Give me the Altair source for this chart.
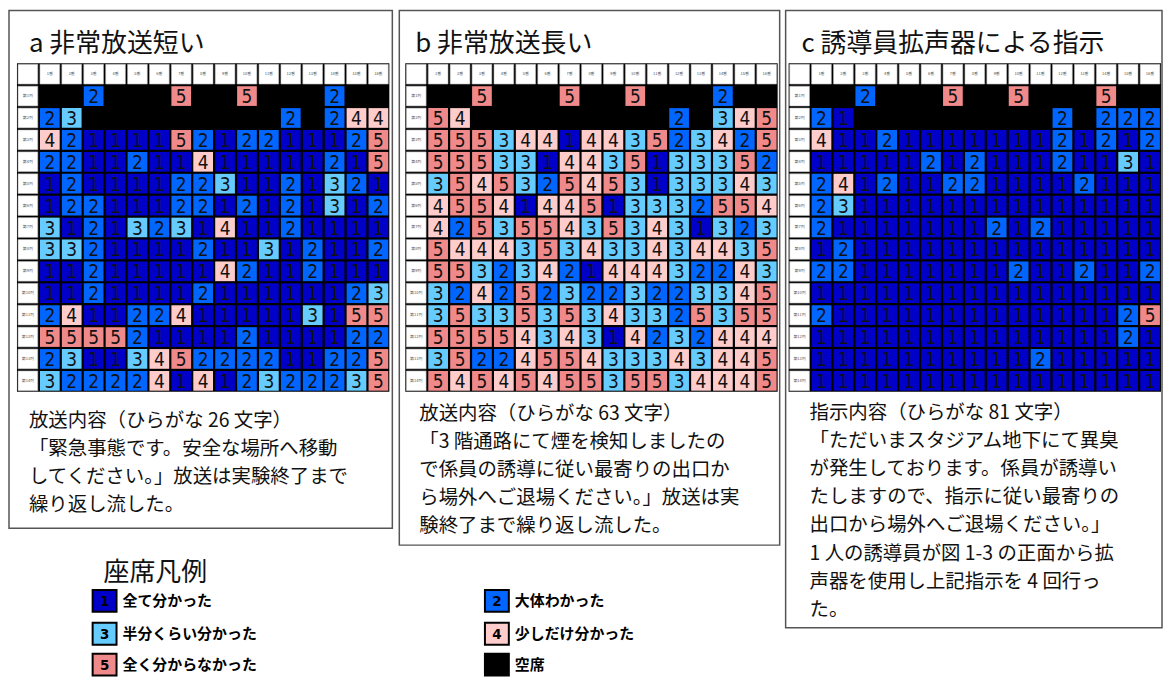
import altair as alt
import pandas as pd

# ---------------- data ----------------
a_rows = [
    [0, 0, 2, 0, 0, 0, 5, 0, 0, 5, 0, 0, 0, 2, 0, 0],
    [2, 3, 0, 0, 0, 0, 0, 0, 0, 0, 0, 2, 0, 2, 4, 4],
    [4, 2, 1, 1, 1, 1, 5, 2, 1, 2, 2, 1, 1, 1, 2, 5],
    [2, 2, 1, 1, 2, 1, 1, 4, 1, 1, 1, 1, 1, 2, 1, 5],
    [1, 2, 1, 1, 1, 1, 2, 2, 3, 1, 1, 2, 1, 3, 2, 1],
    [1, 2, 2, 1, 1, 1, 2, 2, 1, 2, 1, 2, 1, 3, 1, 2],
    [3, 1, 2, 1, 3, 2, 3, 1, 4, 1, 1, 2, 1, 1, 1, 1],
    [3, 3, 2, 1, 1, 1, 1, 2, 1, 1, 3, 1, 2, 1, 1, 2],
    [1, 1, 2, 1, 1, 1, 1, 1, 4, 2, 1, 1, 2, 1, 1, 1],
    [1, 1, 2, 1, 1, 1, 1, 2, 1, 1, 1, 1, 1, 1, 2, 3],
    [2, 4, 1, 1, 2, 2, 4, 1, 1, 1, 1, 1, 3, 1, 5, 5],
    [5, 5, 5, 5, 2, 1, 1, 1, 1, 2, 1, 1, 1, 1, 2, 2],
    [2, 3, 1, 1, 3, 4, 5, 2, 2, 2, 2, 1, 1, 2, 2, 5],
    [3, 2, 2, 2, 2, 4, 1, 4, 1, 2, 3, 2, 2, 2, 3, 5],
]
b_rows = [
    [0, 0, 5, 0, 0, 0, 5, 0, 0, 5, 0, 0, 0, 2, 0, 0],
    [5, 4, 0, 0, 0, 0, 0, 0, 0, 0, 0, 2, 0, 3, 4, 5],
    [5, 5, 5, 3, 4, 4, 1, 4, 4, 3, 5, 2, 3, 4, 2, 5],
    [5, 5, 5, 3, 3, 1, 4, 4, 3, 5, 1, 3, 3, 3, 5, 2],
    [3, 5, 4, 5, 3, 2, 5, 4, 5, 3, 1, 3, 3, 3, 4, 3],
    [4, 5, 5, 4, 1, 4, 4, 5, 1, 3, 3, 3, 2, 5, 5, 4],
    [4, 2, 5, 3, 5, 5, 4, 3, 5, 3, 4, 3, 1, 3, 2, 3],
    [5, 4, 4, 4, 3, 5, 3, 4, 3, 3, 4, 3, 4, 4, 3, 5],
    [5, 5, 3, 2, 3, 4, 2, 1, 4, 4, 4, 3, 2, 2, 4, 3],
    [3, 2, 4, 2, 5, 2, 3, 2, 2, 3, 2, 2, 3, 3, 4, 5],
    [3, 5, 3, 3, 5, 3, 5, 3, 4, 3, 3, 2, 5, 3, 5, 5],
    [5, 5, 5, 5, 4, 3, 4, 3, 1, 4, 2, 3, 2, 4, 4, 4],
    [3, 5, 2, 2, 4, 5, 5, 4, 3, 3, 3, 4, 3, 4, 4, 5],
    [5, 4, 5, 4, 5, 4, 5, 5, 3, 5, 5, 3, 4, 4, 4, 5],
]
c_rows = [
    [0, 0, 2, 0, 0, 0, 5, 0, 0, 5, 0, 0, 0, 5, 0, 0],
    [2, 1, 0, 0, 0, 0, 0, 0, 0, 0, 0, 2, 0, 2, 2, 2],
    [4, 1, 1, 2, 1, 1, 1, 1, 1, 1, 1, 2, 1, 2, 1, 2],
    [1, 1, 1, 1, 1, 2, 1, 2, 1, 1, 1, 2, 1, 1, 3, 1],
    [2, 4, 1, 2, 1, 1, 2, 2, 1, 1, 1, 1, 2, 1, 1, 1],
    [2, 3, 1, 1, 1, 1, 1, 1, 1, 1, 1, 1, 1, 1, 1, 1],
    [2, 1, 1, 1, 1, 1, 1, 1, 2, 1, 2, 1, 1, 1, 1, 1],
    [1, 2, 1, 1, 1, 1, 1, 1, 1, 1, 1, 1, 1, 1, 1, 1],
    [2, 2, 1, 1, 1, 1, 1, 1, 1, 2, 1, 1, 2, 1, 1, 2],
    [1, 1, 1, 1, 1, 1, 1, 1, 1, 1, 1, 1, 1, 1, 1, 1],
    [2, 1, 1, 1, 1, 1, 1, 1, 1, 1, 1, 1, 1, 1, 2, 5],
    [1, 1, 1, 1, 1, 1, 1, 1, 1, 1, 1, 1, 1, 1, 2, 1],
    [1, 1, 1, 1, 1, 1, 1, 1, 1, 1, 2, 1, 1, 1, 1, 1],
    [1, 1, 1, 1, 1, 1, 1, 1, 1, 1, 1, 1, 1, 1, 1, 1],
]

col_labels = [f"{i}番" for i in range(1, 17)]
row_labels = [f"第{i}列" for i in range(1, 15)]

titles = ["a 非常放送短い", "b 非常放送長い", "c 誘導員拡声器による指示"]

a_text = [
    "放送内容（ひらがな 26 文字）",
    "「緊急事態です。安全な場所へ移動",
    "してください。」放送は実験終了まで",
    "繰り返し流した。",
]
b_text = [
    "放送内容（ひらがな 63 文字）",
    "「3 階通路にて煙を検知しましたの",
    "で係員の誘導に従い最寄りの出口か",
    "ら場外へご退場ください。」放送は実",
    "験終了まで繰り返し流した。",
]
c_text = [
    "指示内容（ひらがな 81 文字）",
    "「ただいまスタジアム地下にて異臭",
    "が発生しております。係員が誘導い",
    "たしますので、指示に従い最寄りの",
    "出口から場外へご退場ください。」",
    "1 人の誘導員が図 1-3 の正面から拡",
    "声器を使用し上記指示を 4 回行っ",
    "た。",
]

legend_title = "座席凡例"
legend_codes = [1, 2, 3, 4, 5, 0]
legend_labels = ["全て分かった", "大体わかった", "半分くらい分かった",
                 "少しだけ分かった", "全く分からなかった", "空席"]

seat_domain = [0, 1, 2, 3, 4, 5]
seat_colors = ["#000000", "#0000C8", "#0066FF", "#66CCFF", "#FFCCCC", "#F08A8A"]

# ---------------- styling ----------------
FONT_JP = "Noto Sans CJK JP"
FONT_NUM = "Liberation Sans Narrow, DejaVu Sans Condensed, Liberation Sans, sans-serif"
CELL = 22.0
INS = 0.05
GRID_TOP = 53.0
BODY_FS = 19.5
LINE_H = 28.3

color_scale = alt.Scale(domain=seat_domain, range=seat_colors)


def grid_frame(rows):
    recs = []
    for r, row in enumerate(rows, start=1):
        for c, v in enumerate(row, start=1):
            recs.append({"col": c, "row": r, "v": v})
    return pd.DataFrame(recs)


def header_frame(ncols, nrows):
    recs = [{"col": 0, "row": 0, "lab": ""}]
    for c in range(1, ncols + 1):
        recs.append({"col": c, "row": 0, "lab": col_labels[c - 1]})
    for r in range(1, nrows + 1):
        recs.append({"col": 0, "row": r, "lab": row_labels[r - 1]})
    return pd.DataFrame(recs)


def panel(rows, title, lines, W, H, gx0, title_x, text_x, text_y0, line_h):
    ncols, nrows = len(rows[0]), len(rows)
    xs = alt.Scale(domain=[-gx0 / CELL, (W - gx0) / CELL], nice=False, zero=False)
    ys = alt.Scale(domain=[-GRID_TOP / CELL, (H - GRID_TOP) / CELL],
                   nice=False, zero=False, reverse=True)

    bg = alt.Chart(pd.DataFrame([{"x0": 0, "x1": ncols + 1, "y0": 0, "y1": nrows + 1}])).mark_rect(
        color="black").encode(
        x=alt.X("x0:Q", scale=xs, axis=None), x2="x1:Q",
        y=alt.Y("y0:Q", scale=ys, axis=None), y2="y1:Q")

    hdr_base = alt.Chart(header_frame(ncols, nrows)).transform_calculate(
        x0=f"datum.col + {INS}", x1=f"datum.col + 1 - {INS}",
        y0=f"datum.row + {INS}", y1=f"datum.row + 1 - {INS}",
        xc="datum.col + 0.5", yc="datum.row + 0.5")
    hdr = hdr_base.mark_rect(color="white", stroke="#BBBBBB", strokeWidth=0.6).encode(
        x=alt.X("x0:Q", scale=xs, axis=None), x2="x1:Q",
        y=alt.Y("y0:Q", scale=ys, axis=None), y2="y1:Q")
    hdr_txt = hdr_base.mark_text(fontSize=4, color="#555555", font=FONT_JP).encode(
        x=alt.X("xc:Q", scale=xs, axis=None), y=alt.Y("yc:Q", scale=ys, axis=None),
        text="lab:N")

    base = alt.Chart(grid_frame(rows)).transform_calculate(
        x0=f"datum.col + {INS}", x1=f"datum.col + 1 - {INS}",
        y0=f"datum.row + {INS}", y1=f"datum.row + 1 - {INS}",
        xc="datum.col + 0.5", yc="datum.row + 0.55")
    cells = base.mark_rect().encode(
        x=alt.X("x0:Q", scale=xs, axis=None), x2="x1:Q",
        y=alt.Y("y0:Q", scale=ys, axis=None), y2="y1:Q",
        color=alt.Color("v:O", scale=color_scale, legend=None))
    nums = base.transform_filter("datum.v > 0").mark_text(
        fontSize=19, font=FONT_NUM, color="#111111", baseline="middle").encode(
        x=alt.X("xc:Q", scale=xs, axis=None), y=alt.Y("yc:Q", scale=ys, axis=None),
        text=alt.Text("v:Q"))

    ttl = alt.Chart(pd.DataFrame([{"t": title, "x": (title_x - gx0) / CELL,
                                   "y": (34 - GRID_TOP) / CELL}])).mark_text(
        align="left", baseline="middle", fontSize=26, font=FONT_JP, color="#111111").encode(
        x=alt.X("x:Q", scale=xs, axis=None), y=alt.Y("y:Q", scale=ys, axis=None), text="t:N")

    body_df = pd.DataFrame({"t": lines, "i": list(range(len(lines)))})
    body = alt.Chart(body_df).transform_calculate(
        x=f"{(text_x - gx0) / CELL}",
        y=f"({text_y0} + datum.i * {line_h} - {GRID_TOP}) / {CELL}").mark_text(
        align="left", baseline="middle", fontSize=BODY_FS, font=FONT_JP, color="#111111").encode(
        x=alt.X("x:Q", scale=xs, axis=None), y=alt.Y("y:Q", scale=ys, axis=None), text="t:N")

    return alt.layer(bg, hdr, hdr_txt, cells, nums, ttl, body).properties(
        width=W, height=H,
        view=alt.ViewBackground(stroke="#555555", strokeWidth=1.5, fill="white"))


pa = panel(a_rows, titles[0], a_text, 385, 520, 8, 20, 20, 412, LINE_H)
pb = panel(b_rows, titles[1], b_text, 382, 537, 6, 16, 20, 405, LINE_H)
pc = panel(c_rows, titles[2], c_text, 378, 620, 3, 16, 24, 404, LINE_H)

# ---------------- legend ----------------
LW, LH = 772, 126
lxs = alt.Scale(domain=[0, LW], nice=False, zero=False)
lys = alt.Scale(domain=[0, LH], nice=False, zero=False, reverse=True)
col_x = [84, 478]
row_y = [50, 83, 114]
leg_df = pd.DataFrame({
    "code": legend_codes,
    "lab": legend_labels,
    "num": [str(c) if c > 0 else "" for c in legend_codes],
    "sx": [col_x[i % 2] for i in range(len(legend_codes))],
    "sy": [row_y[i // 2] for i in range(len(legend_codes))],
})
lbase = alt.Chart(leg_df).transform_calculate(
    x0="datum.sx", x1="datum.sx + 24", y0="datum.sy - 11", y1="datum.sy + 11",
    xc="datum.sx + 12", xl="datum.sx + 30")
sw = lbase.mark_rect(stroke="black", strokeWidth=2).encode(
    x=alt.X("x0:Q", scale=lxs, axis=None), x2="x1:Q",
    y=alt.Y("y0:Q", scale=lys, axis=None), y2="y1:Q",
    color=alt.Color("code:O", scale=color_scale, legend=None))
sw_num = lbase.mark_text(fontSize=15, fontWeight="bold", font=FONT_NUM, color="black",
                         baseline="middle").encode(
    x=alt.X("xc:Q", scale=lxs, axis=None), y=alt.Y("sy:Q", scale=lys, axis=None), text="num:N")
sw_lab = lbase.mark_text(fontSize=15, fontWeight="bold", font=FONT_JP, color="black",
                         align="left", baseline="middle").encode(
    x=alt.X("xl:Q", scale=lxs, axis=None), y=alt.Y("sy:Q", scale=lys, axis=None), text="lab:N")
lt = alt.Chart(pd.DataFrame([{"t": legend_title, "x": 95, "y": 22}])).mark_text(
    align="left", baseline="middle", fontSize=26, font=FONT_JP, color="#111111").encode(
    x=alt.X("x:Q", scale=lxs, axis=None), y=alt.Y("y:Q", scale=lys, axis=None), text="t:N")
legend = alt.layer(lt, sw, sw_num, sw_lab).properties(
    width=LW, height=LH, view=alt.ViewBackground(strokeOpacity=0))

left = alt.vconcat(alt.hconcat(pa, pb, spacing=5), legend, spacing=5)
chart = alt.hconcat(left, pc, spacing=4).properties(padding=0).configure_view(
    stroke="transparent")

chart.save("out.html", embed_options={"renderer": "svg", "actions": False})
